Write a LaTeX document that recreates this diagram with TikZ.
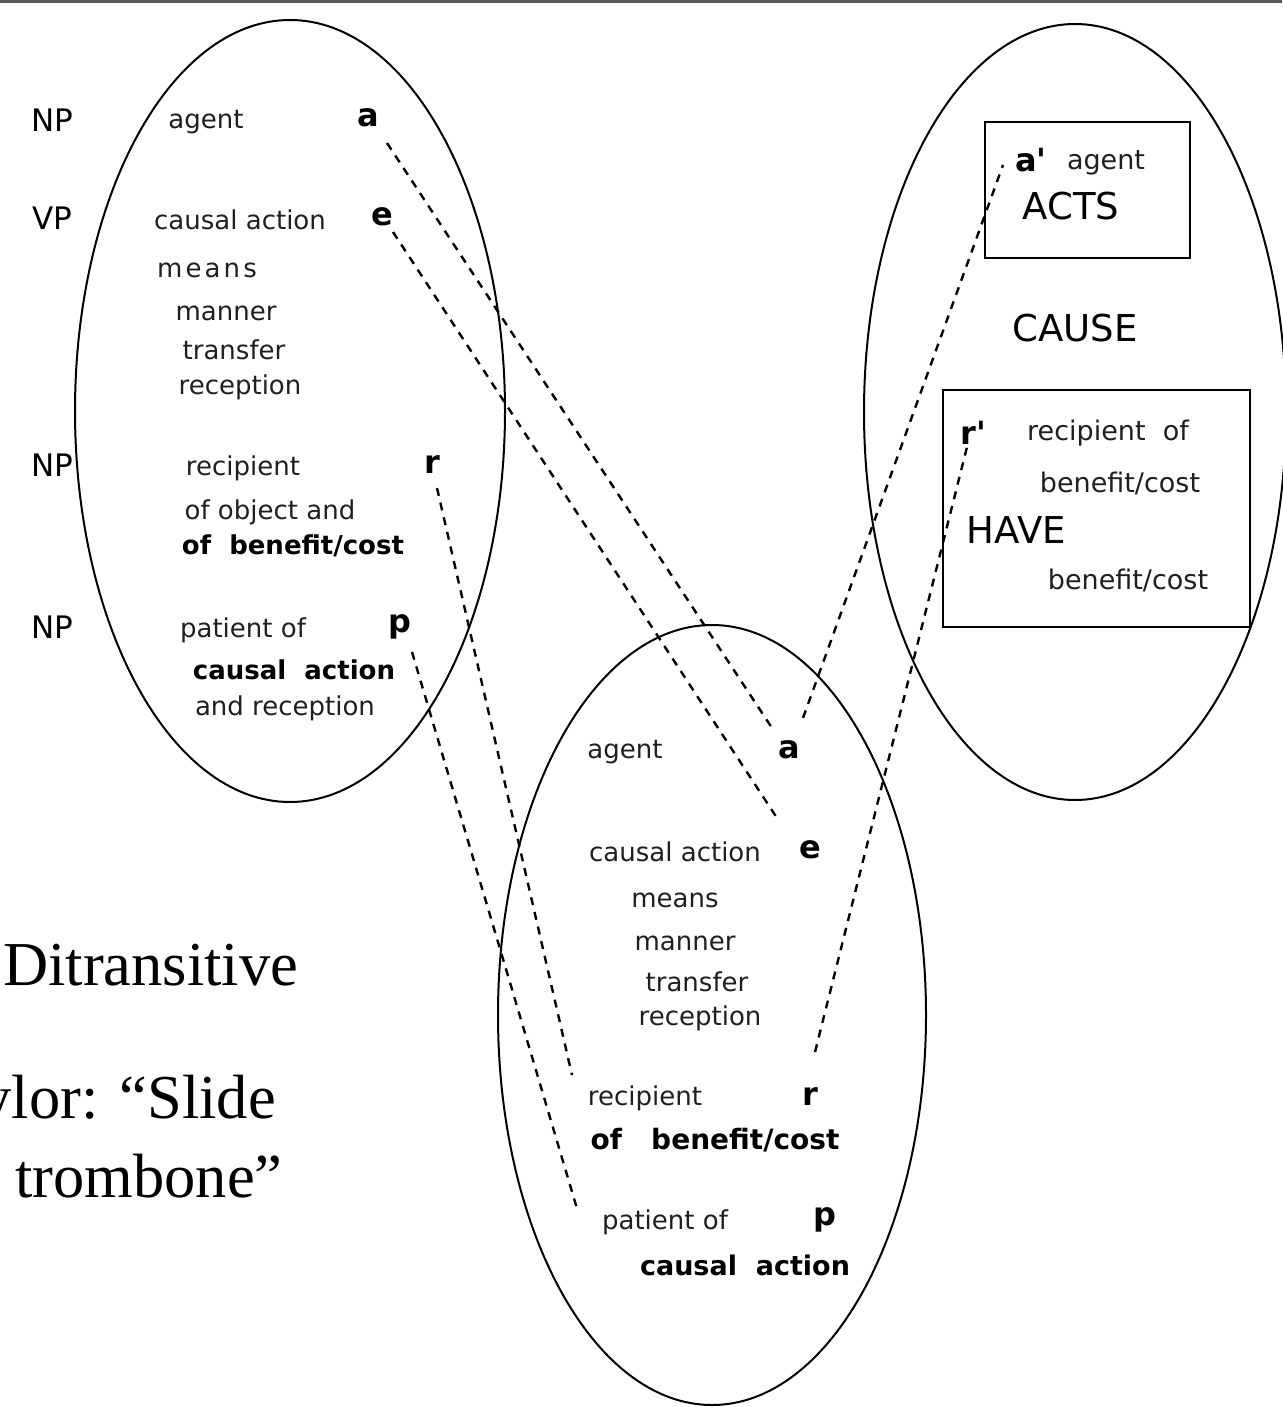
\documentclass[tikz,border=0pt]{standalone}
\usepackage{fontspec}
\setmainfont{DejaVu Sans}
\newfontfamily\varfont{DejaVu Sans}
\newfontfamily\serifbig{Liberation Serif}
\usetikzlibrary{shapes.geometric}
\begin{document}
\begin{tikzpicture}[x=1pt,y=-1pt,
  lbl/.style={inner sep=0pt, font=\fontsize{26}{30}\selectfont, text=black!88},
  bl/.style={inner sep=0pt, font=\fontsize{26}{30}\selectfont\bfseries},
  var/.style={inner sep=0pt, font=\varfont\fontsize{32}{36}\selectfont\bfseries},
  cat/.style={inner sep=0pt, font=\fontsize{31}{36}\selectfont},
  bigw/.style={inner sep=0pt, font=\fontsize{37}{42}\selectfont},
  slide/.style={inner sep=0pt, font=\serifbig\fontsize{62.5}{75}\selectfont},
  oval/.style={draw, ellipse, line width=2pt, inner sep=0pt},
  box/.style={draw, rectangle, line width=2.2pt, inner sep=0pt},
  link/.style={line width=2.4pt, dash pattern=on 8pt off 7pt}
]
\useasboundingbox (0,0) rectangle (1282,1407);
\fill[black!65] (0,0) rectangle (1282,3);

% ellipses and boxes
\node[oval, minimum width=430pt, minimum height=782pt] (L) at (290,411) {};
\node[oval, minimum width=428pt, minimum height=780pt] (M) at (712,1015) {};
\node[oval, minimum width=422pt, minimum height=776pt] (R) at (1075,412) {};
\node[box, minimum width=205pt, minimum height=136pt] (B1) at (1087.5,190) {};
\node[box, minimum width=307pt, minimum height=237pt] (B2) at (1096.5,508.5) {};

% left column categories
\node[cat] (np1) at (52,120) {NP};
\node[cat] (vp) at (52,218) {VP};
\node[cat] (np2) at (52,465) {NP};
\node[cat] (np3) at (52,627) {NP};

% left ellipse
\node[lbl] (Lagent) at (206,122) {agent};
\node[var] (La) at (368,118) {a};
\node[lbl] (Lcause) at (240,220) {causal action};
\node[var] (Le) at (382,217) {e};
\node[lbl, font=\fontsize{26}{30}\selectfont\addfontfeature{LetterSpace=12}] (Lmeans) at (207,270) {means};
\node[lbl] (Lmanner) at (226,313) {manner};
\node[lbl] (Ltransfer) at (234,350) {transfer};
\node[lbl] (Lrecep) at (240,387) {reception};
\node[lbl] (Lrecip) at (243,468) {recipient};
\node[var] (Lr) at (432,465) {r};
\node[lbl] (Lobj) at (270,512) {of object and};
\node[bl] (Lben) at (293,546) {of\ \ benefit/cost};
\node[lbl] (Lpat) at (243,630) {patient of};
\node[var] (Lp) at (400,627) {p};
\node[bl] (Lca) at (294,670) {causal\ \ action};
\node[lbl] (Landrec) at (285,708) {and reception};

% middle ellipse
\node[lbl] (Magent) at (625,752) {agent};
\node[var] (Ma) at (789,750) {a};
\node[lbl] (Mcause) at (675,852) {causal action};
\node[var] (Me) at (810,850) {e};
\node[lbl] (Mmeans) at (675,900) {means};
\node[lbl] (Mmanner) at (685,943) {manner};
\node[lbl] (Mtransfer) at (697,982) {transfer};
\node[lbl] (Mrecep) at (700,1018) {reception};
\node[lbl] (Mrecip) at (645,1098) {recipient};
\node[var] (Mr) at (810,1097) {r};
\node[bl, font=\fontsize{28}{32}\selectfont\bfseries] (Mben) at (715,1140) {of\ \ \ benefit/cost};
\node[lbl] (Mpat) at (665,1222) {patient of};
\node[var] (Mp) at (825,1220) {p};
\node[bl, font=\fontsize{27}{32}\selectfont\bfseries] (Mca) at (745,1265) {causal\ \ action};

% right ellipse
\node[var] (Ra) at (1031,160) {a'};
\node[lbl, font=\fontsize{27}{30}\selectfont] (Ragent) at (1106,163) {agent};
\node[bigw] (acts) at (1071,206) {ACTS};
\node[bigw] (cause) at (1075,328) {CAUSE};
\node[var] (Rr) at (973,433) {r'};
\node[lbl, font=\fontsize{27}{30}\selectfont] (Rrecip) at (1108,433) {recipient\ \ of};
\node[lbl, font=\fontsize{27}{30}\selectfont] (Rben1) at (1120,483) {benefit/cost};
\node[bigw] (have) at (1016,530) {HAVE};
\node[lbl, font=\fontsize{27}{30}\selectfont] (Rben2) at (1128,580) {benefit/cost};

% slide text (cut at the left edge, as in the source)
\node[slide, anchor=base west] (t1) at (3,985) {Ditransitive};
\node[slide, anchor=base east] (t2) at (276,1118) {ylor: “Slide};
\node[slide, anchor=base west] (t3) at (15,1197) {trombone”};

% connector end points
\coordinate (aL) at (387,143);
\coordinate (aM) at (772,728);
\coordinate (eL) at (393,232);
\coordinate (eM) at (777,818);
\coordinate (rL) at (437,488);
\coordinate (rM) at (572,1075);
\coordinate (pL) at (412,652);
\coordinate (pM) at (578,1212);
\coordinate (aM2) at (803,718);
\coordinate (aR) at (1003,165);
\coordinate (rM2) at (815,1052);
\coordinate (rR) at (967,447);

\draw[link] (aL) -- (aM);
\draw[link] (eL) -- (eM);
\draw[link] (rL) -- (rM);
\draw[link] (pL) -- (pM);
\draw[link] (aM2) -- (aR);
\draw[link] (rM2) -- (rR);
\end{tikzpicture}
\end{document}
